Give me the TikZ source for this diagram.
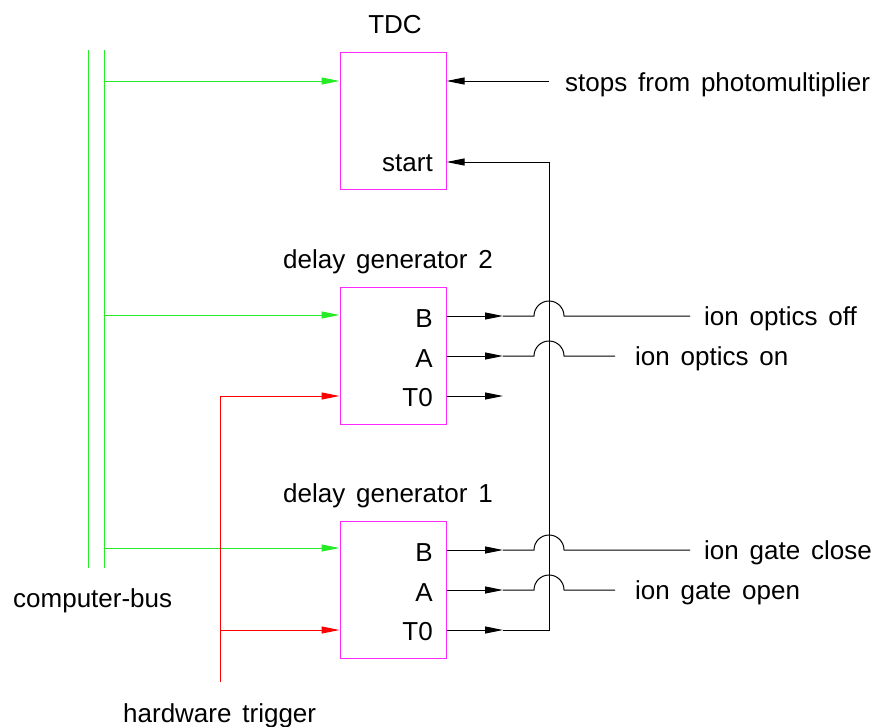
\documentclass[tikz,border=0pt]{standalone}
\usepackage{fontspec}
\setmainfont[WordSpace=1.5]{Liberation Sans}
\usetikzlibrary{arrows.meta}
\definecolor{busgreen}{RGB}{40,235,40}
\definecolor{boxpink}{RGB}{255,40,255}
\begin{document}
\begin{tikzpicture}[x=1pt,y=-1pt,
  every node/.style={font=\fontsize{26}{32}\selectfont, inner sep=0pt},
  box/.style={draw=boxpink, line width=1pt, minimum width=106pt, minimum height=137pt},
  sig/.style={line width=1pt},
  sigarrow/.style={sig, -{Triangle[length=18pt,width=7pt]}},
  bus/.style={sig, busgreen},
  busarrow/.style={sigarrow, busgreen},
  trig/.style={sig, red},
  trigarrow/.style={sigarrow, red}]
\useasboundingbox (0,0) rectangle (896,726);
	\node[box] (tdc) at (393,121) {};
	\node[box] (dgtwo) at (393,356) {};
	\node[box] (dgone) at (393,590) {};
	\node[anchor=base] (tdclabel) at (395,33) {TDC};
	\node[anchor=base] (dgtwolabel) at (388,268) {delay generator 2};
	\node[anchor=base] (dgonelabel) at (388,502) {delay generator 1};
	\node[anchor=base east] (tdcstart) at (433,171) {start};
	\node[anchor=base east] (dgtwob) at (433,327) {B};
	\node[anchor=base east] (dgtwoa) at (433,367) {A};
	\node[anchor=base east] (dgtwot) at (433,406) {T0};
	\node[anchor=base east] (dgoneb) at (433,561) {B};
	\node[anchor=base east] (dgonea) at (433,601) {A};
	\node[anchor=base east] (dgonet) at (433,640) {T0};
	\node[anchor=base west] (stops) at (565,91) {stops from photomultiplier};
	\node[anchor=base west] (optoff) at (704,325) {ion optics off};
	\node[anchor=base west] (opton) at (635,365) {ion optics on};
	\node[anchor=base west] (gateclose) at (704,559) {ion gate close};
	\node[anchor=base west] (gateopen) at (635,599) {ion gate open};
	\node[anchor=base west] (compbus) at (13,607) {computer-bus};
	\node[anchor=base west] (hwtrig) at (123,722) {hardware trigger};
	\coordinate (busa) at (88,50);
	\coordinate (busb) at (104,50);
	\coordinate (tapt) at (104,81);
	\coordinate (taptwo) at (104,315);
	\coordinate (tapone) at (104,548);
	\coordinate (stopsend) at (549,81);
	\coordinate (startjoin) at (549,162);
	\coordinate (trigfoot) at (220,682);
	\coordinate (trigtwo) at (220,396);
	\coordinate (trigone) at (220,630);
	\coordinate (tiptwob) at (503,316);
	\coordinate (tiptwoa) at (503,356);
	\coordinate (tiptwot) at (503,396);
	\coordinate (taponeb) at (503,550);
	\coordinate (taponea) at (503,590);
	\coordinate (taponet) at (503,630);
	\draw[bus] (busa) -- (88,568);
	\draw[bus] (busb) -- (104,568);
	\draw[busarrow] (tapt) -- (tapt -| tdc.west);
	\draw[busarrow] (taptwo) -- (taptwo -| dgtwo.west);
	\draw[busarrow] (tapone) -- (tapone -| dgone.west);
	\draw[trig] (trigfoot) -- (trigtwo);
	\draw[trigarrow] (trigtwo) -- (trigtwo -| dgtwo.west);
	\draw[trigarrow] (trigone) -- (trigone -| dgone.west);
	\draw[sigarrow] (stopsend) -- (stopsend -| tdc.east);
	\draw[sigarrow] (dgone.east |- taponet) -- (taponet);
	\draw[sigarrow] (taponet) -- (549,630) -- (startjoin) -- (startjoin -| tdc.east);
	\draw[sigarrow] (dgtwo.east |- tiptwob) -- (tiptwob);
	\draw[sigarrow] (dgtwo.east |- tiptwoa) -- (tiptwoa);
	\draw[sigarrow] (dgtwo.east |- tiptwot) -- (tiptwot);
	\draw[sigarrow] (dgone.east |- taponeb) -- (taponeb);
	\draw[sigarrow] (dgone.east |- taponea) -- (taponea);
	\draw[sig] (tiptwob) -- (534,316) arc[start angle=180, end angle=360, radius=15] -- (690,316);
	\draw[sig] (tiptwoa) -- (534,356) arc[start angle=180, end angle=360, radius=15] -- (615,356);
	\draw[sig] (taponeb) -- (534,550) arc[start angle=180, end angle=360, radius=15] -- (690,550);
	\draw[sig] (taponea) -- (534,590) arc[start angle=180, end angle=360, radius=15] -- (615,590);
\end{tikzpicture}
\end{document}
